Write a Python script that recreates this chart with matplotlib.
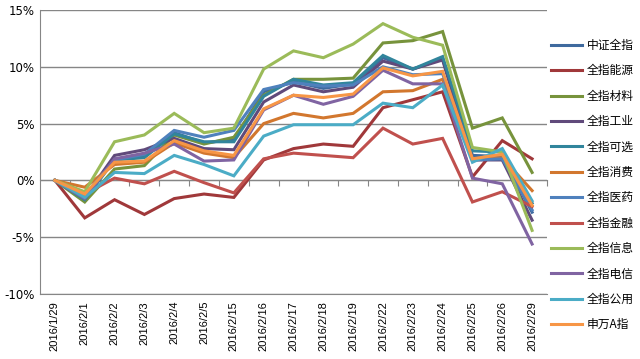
import matplotlib.pyplot as plt
import numpy as np

# Daten
dates = ["2016/1/29", "2016/2/1", "2016/2/2", "2016/2/3", "2016/2/4", "2016/2/5",
         "2016/2/15", "2016/2/16", "2016/2/17", "2016/2/18", "2016/2/19", "2016/2/22",
         "2016/2/23", "2016/2/24", "2016/2/25", "2016/2/26", "2016/2/29"]

names = ["中证全指", "全指能源", "全指材料", "全指工业", "全指可选", "全指消费",
         "全指医药", "全指金融", "全指信息", "全指电信", "全指公用", "申万A指"]

colors = ["#3F6A9E", "#A0383A", "#77933C", "#604A7B", "#31859C", "#D2772E",
          "#4F81BD", "#C0504D", "#9BBB59", "#8064A2", "#4BACC6", "#F79646"]

zz_all = [0, -1.4, 1.9, 2.1, 4.2, 3.3, 3.6, 7.8, 8.7, 8.1, 8.5, 10.8, 9.8, 10.7, 2.2, 2.1, -2.8]
energy = [0, -3.3, -1.7, -3.0, -1.6, -1.2, -1.5, 1.8, 2.8, 3.2, 3.0, 6.4, 7.1, 7.8, 0.3, 3.5, 1.9]
material = [0, -1.9, 1.0, 1.3, 4.0, 3.2, 3.8, 7.5, 8.9, 8.9, 9.0, 12.1, 12.3, 13.1, 4.6, 5.5, 0.7]
industry = [0, -1.5, 2.2, 2.7, 3.7, 2.8, 2.7, 6.9, 8.4, 7.8, 8.2, 10.5, 9.8, 10.6, 1.8, 1.8, -3.5]
optional = [0, -1.7, 1.8, 2.0, 4.1, 3.4, 3.4, 7.4, 8.9, 8.4, 8.6, 11.0, 9.8, 10.9, 2.6, 2.5, -2.0]
consumer = [0, -0.6, 1.4, 1.6, 3.3, 2.4, 2.0, 5.0, 5.9, 5.5, 5.9, 7.8, 7.9, 8.9, 1.8, 2.0, -0.9]
pharma = [0, -1.3, 1.8, 2.3, 4.4, 3.8, 4.4, 8.0, 8.6, 8.3, 8.4, 10.0, 9.3, 9.4, 1.8, 1.9, -2.6]
finance = [0, -1.2, 0.2, -0.3, 0.8, -0.2, -1.1, 1.9, 2.4, 2.2, 2.0, 4.6, 3.2, 3.7, -1.9, -1.0, -2.3]
info = [0, -1.0, 3.4, 4.0, 5.9, 4.2, 4.6, 9.8, 11.4, 10.8, 12.0, 13.8, 12.6, 11.9, 2.9, 2.5, -4.4]
telecom = [0, -1.6, 1.9, 2.4, 3.2, 1.7, 1.8, 6.2, 7.5, 6.7, 7.4, 9.7, 8.5, 8.5, 0.2, -0.3, -5.6]
utility = [0, -1.5, 0.7, 0.6, 2.2, 1.4, 0.4, 3.9, 4.9, 4.9, 4.9, 6.8, 6.4, 8.4, 1.6, 2.8, -1.8]
sw_a = [0, -1.2, 1.6, 1.7, 3.5, 2.6, 2.2, 6.3, 7.5, 7.3, 7.6, 9.9, 9.2, 9.6, 1.9, 2.3, -2.2]

series = [zz_all, energy, material, industry, optional, consumer,
          pharma, finance, info, telecom, utility, sw_a]

fig = plt.figure(figsize=(6.4, 3.59), dpi=100)
ax = fig.add_axes([40 / 640, 1 - 294 / 359, 507 / 640, 284 / 359])

x = np.arange(len(dates))
for name, vals, c in zip(names, series, colors):
    ax.plot(x, vals, color=c, lw=2.2, label=name, solid_joinstyle="miter")

ax.set_xlim(-0.5, len(dates) - 0.5)
ax.set_ylim(-10, 15)
ax.set_yticks([-10, -5, 0, 5, 10, 15])
ax.set_yticklabels(["-10%", "-5%", "0%", "5%", "10%", "15%"], fontsize=8.5)
ax.yaxis.grid(True, color="#868686", lw=1)
ax.set_axisbelow(True)
ax.tick_params(axis="y", length=0, pad=4)

ax.set_xticks(x)
ax.set_xticklabels(dates, rotation=90, fontsize=8, family="Liberation Sans")
ax.tick_params(axis="x", length=0, pad=5)

for s in ["top", "right"]:
    ax.spines[s].set_visible(False)
ax.spines["left"].set_color("#868686")
ax.spines["bottom"].set_color("#868686")

# Kategorieachse bei 0%
sec = ax.secondary_xaxis(10 / 25)
sec.set_xticks(np.arange(len(dates)) + 0.5)
sec.set_xticklabels([])
sec.tick_params(length=4, color="#868686", direction="out")
sec.spines["bottom"].set_color("#868686")

ax.legend(loc="upper left", bbox_to_anchor=(551 / 640, 1 - 39 / 359),
          bbox_transform=fig.transFigure, frameon=False,
          prop={"family": ["Noto Sans CJK SC", "DejaVu Sans"], "size": 8.5},
          handlelength=2.6, handletextpad=0.45, labelspacing=1.05,
          borderpad=0, borderaxespad=0)

fig.savefig("out.png", dpi=100)
